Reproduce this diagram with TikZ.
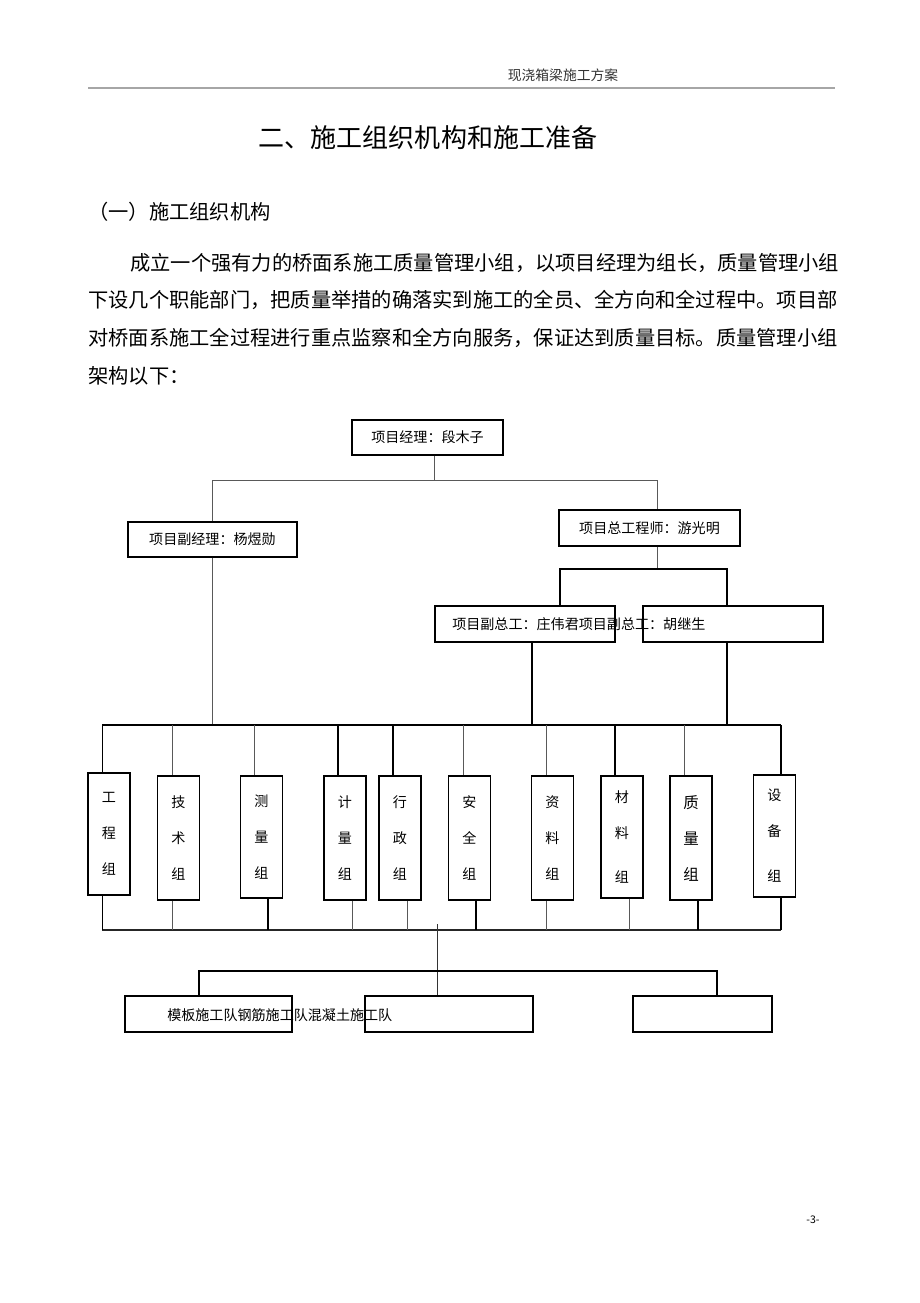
\documentclass[tikz,border=0pt]{standalone}
\usepackage{fontspec}
\setmainfont{Noto Sans CJK SC}
\usepackage{tikz}
\XeTeXlinebreaklocale "zh"
\XeTeXlinebreakskip=0pt plus 2pt

\begin{document}
\begin{tikzpicture}[x=0.025cm,y=-0.025cm,
    box/.style={draw,line width=0.8pt,inner sep=0pt,font=\fontsize{10}{12}\selectfont},
    grp/.style={box,minimum width=1.05cm,minimum height=3.1cm,align=center,
      font=\fontsize{10}{25.6}\selectfont},
    ln/.style={line width=0.7pt,black!65},
    thk/.style={line width=1.4pt}]
    \useasboundingbox (0,0) rectangle (920,1303);

    % header and text
    \node[font=\fontsize{9.8}{12}\selectfont,text=black!80] (head) at (563,75) {现浇箱梁施工方案};
    \coordinate (hl) at (88,88);
    \coordinate (hr) at (835,88);
    \draw[line width=1.3pt,black!35] (hl) -- (hr);
    \node[font=\fontsize{18.5}{22}\selectfont] (title) at (428,138) {二、施工组织机构和施工准备};
    \node[anchor=west,inner sep=0pt,font=\fontsize{14.4}{17}\selectfont] (sec) at (88,212) {（一）施工组织机构};
    \node[anchor=west,inner sep=0pt,font=\fontsize{14.4}{17}\selectfont] (p1) at (130,263)
        {\hbox to 17.75cm{成立一个强有力的桥面系施工质量管理小组，以项目经理为组长，质量管理小组}};
    \node[anchor=west,inner sep=0pt,font=\fontsize{14.4}{17}\selectfont] (p2) at (88,300)
        {\hbox to 18.8cm{下设几个职能部门，把质量举措的确落实到施工的全员、全方向和全过程中。项目部}};
    \node[anchor=west,inner sep=0pt,font=\fontsize{14.4}{17}\selectfont] (p3) at (88,338)
        {\hbox to 18.8cm{对桥面系施工全过程进行重点监察和全方向服务，保证达到质量目标。质量管理小组}};
    \node[anchor=west,inner sep=0pt,font=\fontsize{14.4}{17}\selectfont] (p4) at (88,376) {架构以下：};

    % leaders
    \node[box,minimum width=3.775cm,minimum height=0.875cm] (pm) at (427.5,437.5) {项目经理：段木子};
    \node[box,minimum width=4.225cm,minimum height=0.875cm] (dpm) at (212.5,539.5) {项目副经理：杨煜勋};
    \node[box,minimum width=4.525cm,minimum height=0.9cm] (ce) at (649.5,528) {项目总工程师：游光明};
    \node[box,minimum width=4.5cm,minimum height=0.9cm] (dce1) at (525,624) {};
    \node[box,minimum width=4.5cm,minimum height=0.9cm] (dce2) at (733,624) {};
    \node[anchor=west,inner sep=0pt,font=\fontsize{10}{12}\selectfont] (dcetxt) at (452,624)
        {项目副总工：庄伟君项目副总工：胡继生};

    \coordinate (j0) at (434,480);
    \coordinate (jr) at (657,480);
    \draw[ln] (pm.south -| j0) -- (j0);
    \draw[ln] (dpm.north) |- (jr) -- (ce.north -| jr);
    \coordinate (k0) at (657,569);
    \coordinate (kl) at (560,569);
    \coordinate (kr) at (727,569);
    \draw[ln] (ce.south -| k0) -- (k0);
    \draw[thk] (dce1.north -| kl) |- (kr) -- (dce2.north -| kr);

    % groups
    \node[grp,minimum height=3.05cm] (g1) at (109,834) {工\\程\\组};
    \node[grp] (g2) at (178.5,838) {技\\术\\组};
    \node[grp,minimum height=3.05cm] (g3) at (261.5,837) {测\\量\\组};
    \node[grp] (g4) at (345,838) {计\\量\\组};
    \node[grp] (g5) at (400,838) {行\\政\\组};
    \node[grp] (g6) at (469.5,838) {安\\全\\组};
    \node[grp] (g7) at (552.5,838) {资\\料\\组};
    \node[grp,minimum height=3.05cm] (g8) at (622,837) {材\\料\\[0.22cm]组};
    \node[grp,font=\fontsize{11}{25.6}\selectfont] (g9) at (691,838) {质\\量\\组};
    \node[grp,minimum height=3.05cm] (g10) at (774.5,836) {设\\备\\[0.22cm]组};

    \coordinate (t1) at (102,725);
    \coordinate (t2) at (172,725);
    \coordinate (t3) at (254,725);
    \coordinate (t4) at (338,725);
    \coordinate (t5) at (393,725);
    \coordinate (t6) at (463,725);
    \coordinate (t7) at (546,725);
    \coordinate (t8) at (615,725);
    \coordinate (t9) at (684,725);
    \coordinate (t10) at (781,725);
    \coordinate (u1) at (532,725);
    \coordinate (u2) at (727,725);
    \draw[thk] (dce1.south -| u1) -- (u1);
    \draw[thk] (dce2.south -| u2) -- (u2);
    \draw[ln] (dpm.south) -- (dpm.south |- u1);
    \draw[line width=1.2pt] (t1) -- (t10);
    \draw[ln,black] (t1) -- (t1 |- g1.north);
    \draw[ln] (t2) -- (t2 |- g2.north);
    \draw[ln] (t3) -- (t3 |- g3.north);
    \draw[thk] (t4) -- (t4 |- g4.north);
    \draw[line width=1pt] (t5) -- (t5 |- g5.north);
    \draw[ln] (t6) -- (t6 |- g6.north);
    \draw[ln] (t7) -- (t7 |- g7.north);
    \draw[thk] (t8) -- (t8 |- g8.north);
    \draw[ln] (t9) -- (t9 |- g9.north);
    \draw[thk] (t10) -- (t10 |- g10.north);

    \coordinate (b1) at (102,930);
    \coordinate (b2) at (172,930);
    \coordinate (b3) at (268,930);
    \coordinate (b4) at (352,930);
    \coordinate (b5) at (407,930);
    \coordinate (b6) at (476,930);
    \coordinate (b7) at (546,930);
    \coordinate (b8) at (629,930);
    \coordinate (b9) at (698,930);
    \coordinate (b10) at (781,930);
    \draw[line width=1pt,black!85] (b1) -- (b10);
    \draw[ln,black] (g1.south -| b1) -- (b1);
    \draw[ln] (g2.south -| b2) -- (b2);
    \draw[line width=1pt] (g3.south -| b3) -- (b3);
    \draw[ln] (g4.south -| b4) -- (b4);
    \draw[ln] (g5.south -| b5) -- (b5);
    \draw[thk] (g6.south -| b6) -- (b6);
    \draw[ln] (g7.south -| b7) -- (b7);
    \draw[ln] (g8.south -| b8) -- (b8);
    \draw[thk] (g9.south -| b9) -- (b9);
    \draw[thk] (g10.south -| b10) -- (b10);

    % teams
    \node[box,minimum width=4.175cm,minimum height=0.9cm] (tm1) at (208.5,1014) {};
    \node[box,minimum width=4.2cm,minimum height=0.9cm] (tm2) at (449,1014) {};
    \node[box,minimum width=3.475cm,minimum height=0.9cm] (tm3) at (702.5,1014) {};
    \node[anchor=west,inner sep=0pt,font=\fontsize{10}{12}\selectfont] (tmtxt) at (167,1015)
        {模板施工队钢筋施工队混凝土施工队};
    \coordinate (c0) at (437,924);
    \coordinate (cl) at (199,971);
    \coordinate (cr) at (717,971);
    \draw[ln,black!80] (c0) -- (tm2.north -| c0);
    \draw[thk] (tm1.north -| cl) |- (cr) -- (tm3.north -| cr);

    \node[font=\fontsize{7.5}{9}\selectfont] (pg) at (813,1220) {-3-};
\end{tikzpicture}
\end{document}
